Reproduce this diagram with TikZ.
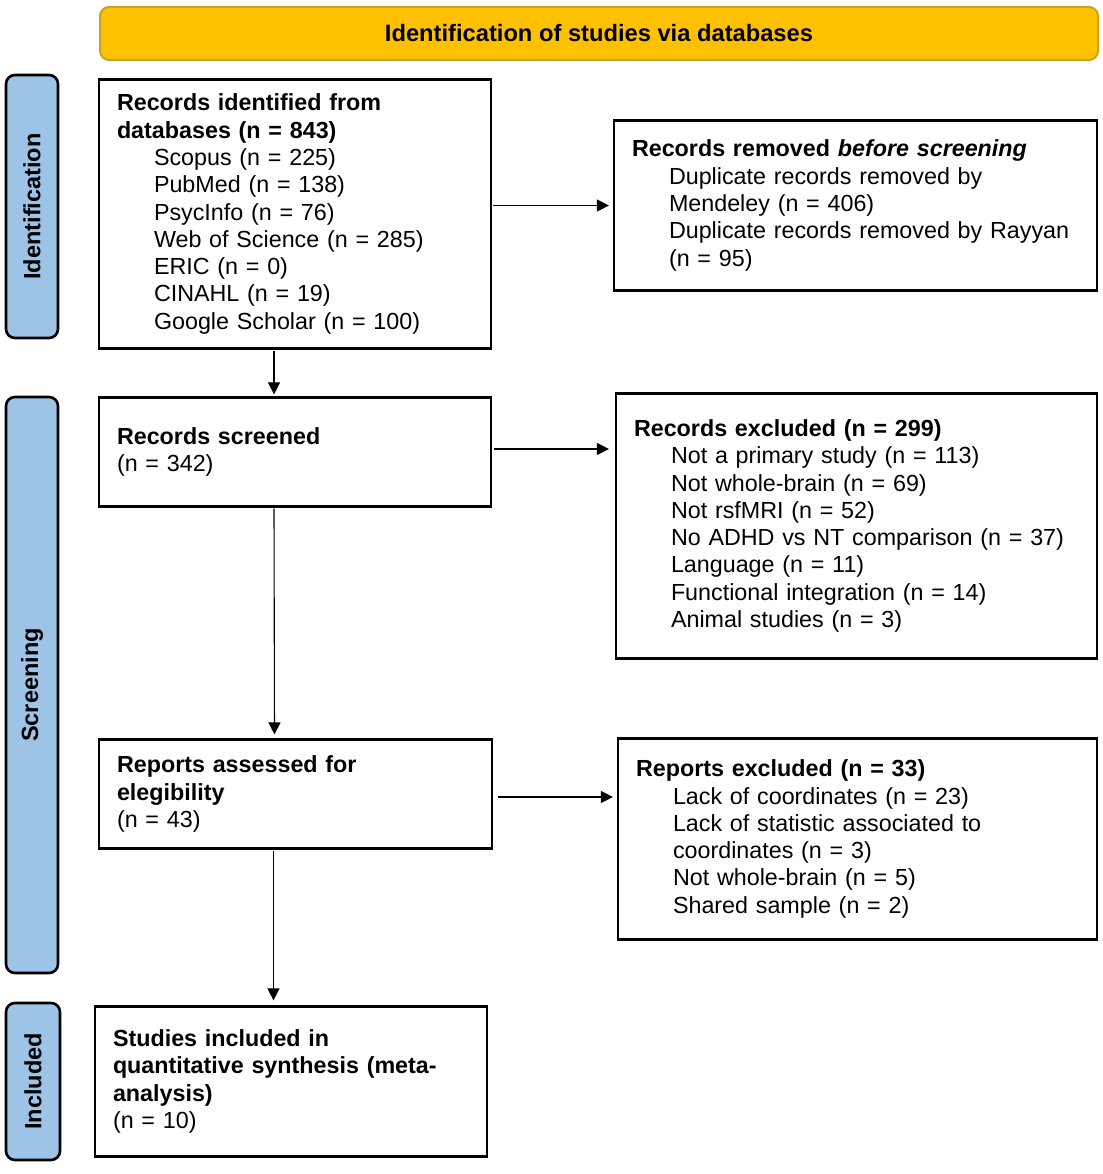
\documentclass[tikz,border=0pt]{standalone}
\usepackage{fontspec}
\setmainfont{Liberation Sans}
\usetikzlibrary{arrows.meta}
\definecolor{bannerfill}{RGB}{255,192,0}
\definecolor{bannerline}{RGB}{205,160,40}
\definecolor{sidefill}{RGB}{157,195,230}
\newcommand{\prisind}{\hspace*{37pt}}
\begin{document}
\begin{tikzpicture}[x=1pt,y=-1pt,
  txt/.style={font=\fontsize{23.3}{27.3}\selectfont},
  banner/.style={draw=bannerline, fill=bannerfill, line width=2pt, rounded corners=9pt,
     minimum width=998, minimum height=53, inner sep=0pt, font=\fontsize{23.7}{27.3}\selectfont\bfseries},
  sidelab/.style={draw=black, fill=sidefill, line width=2.6pt, rounded corners=9pt,
     rotate=90, inner sep=0pt, font=\fontsize{23.5}{27.3}\selectfont\bfseries},
  pbox/.style={txt, draw=black, fill=white, line width=2.2pt, inner xsep=18pt, inner ysep=0pt,
     align=left},
  arr/.style={line width=1.1pt, -{Triangle[length=12pt,width=12pt]}}
]
\useasboundingbox (0,0) rectangle (1102,1174);

\node[banner] (ban) at (599,33.5) {Identification of studies via databases};

\node[sidelab, minimum width=263, minimum height=52] (sid) at (32,206.5) {Identification};
\node[sidelab, minimum width=576, minimum height=52] (sscr) at (32,685) {Screening};
\node[sidelab, minimum width=157, minimum height=54] (sinc) at (33,1081.5) {Included};

\node[pbox, text width=356, minimum width=392, minimum height=269] (b1) at (295,214)
 {\textbf{Records identified from}\\
  \textbf{databases (n = 843)}\\
  \prisind Scopus (n = 225)\\
  \prisind PubMed (n = 138)\\
  \prisind PsycInfo (n = 76)\\
  \prisind Web of Science (n = 285)\\
  \prisind ERIC (n = 0)\\
  \prisind CINAHL (n = 19)\\
  \prisind Google Scholar (n = 100)};

\node[pbox, text width=447, minimum width=483, minimum height=170] (b2) at (855.5,205.5)
 {\textbf{Records removed \textit{before screening}}\\
  \prisind Duplicate records removed by\\
  \prisind Mendeley (n = 406)\\
  \prisind Duplicate records removed by Rayyan\\
  \prisind (n = 95)};

\node[pbox, text width=356, minimum width=392, minimum height=109] (b3) at (295,452)
 {\textbf{Records screened}\\
  (n = 342)};

\node[pbox, text width=445, minimum width=481, minimum height=265] (b4) at (856.5,526)
 {\textbf{Records excluded (n = 299)}\\
  \prisind Not a primary study (n = 113)\\
  \prisind Not whole-brain (n = 69)\\
  \prisind Not rsfMRI (n = 52)\\
  \prisind No ADHD vs NT comparison (n = 37)\\
  \prisind Language (n = 11)\\
  \prisind Functional integration (n = 14)\\
  \prisind Animal studies (n = 3)};

\node[pbox, text width=357, minimum width=393, minimum height=109] (b5) at (295.5,794)
 {\textbf{Reports assessed for}\\
  \textbf{elegibility}\\
  (n = 43)};

\node[pbox, text width=443, minimum width=479, minimum height=201] (b6) at (857.5,839)
 {\textbf{Reports excluded (n = 33)}\\
  \prisind Lack of coordinates (n = 23)\\
  \prisind Lack of statistic associated to\\
  \prisind coordinates (n = 3)\\
  \prisind Not whole-brain (n = 5)\\
  \prisind Shared sample (n = 2)};

\node[pbox, text width=356, minimum width=392, minimum height=150] (b7) at (291,1081.5)
 {\textbf{Studies included in}\\
  \textbf{quantitative synthesis (meta-}\\
  \textbf{analysis)}\\
  (n = 10)};

% connectors
\draw[arr, shorten <=1pt, shorten >=4pt] (b1.east |- b2.west) -- (b2.west);
\draw[arr, shorten <=1pt, shorten >=2pt] ([xshift=-21pt]b1.south) -- ([xshift=-21pt]b3.north);
\draw[arr, shorten <=2pt, shorten >=6pt] ([yshift=3pt]b3.east) -- ([yshift=3pt]b3.east -| b4.west);
\draw[arr, shorten <=1pt, shorten >=4pt] ([xshift=-21pt]b3.south) -- ([xshift=-21pt]b5.north);
\draw[arr, shorten <=5pt, shorten >=4pt] ([yshift=-3pt]b5.east) -- ([yshift=-3pt]b5.east -| b6.west);
\draw[arr, shorten <=1pt, shorten >=5pt] ([xshift=-22pt]b5.south) -- ([xshift=-22pt]b5.south |- b7.north);
\end{tikzpicture}
\end{document}
